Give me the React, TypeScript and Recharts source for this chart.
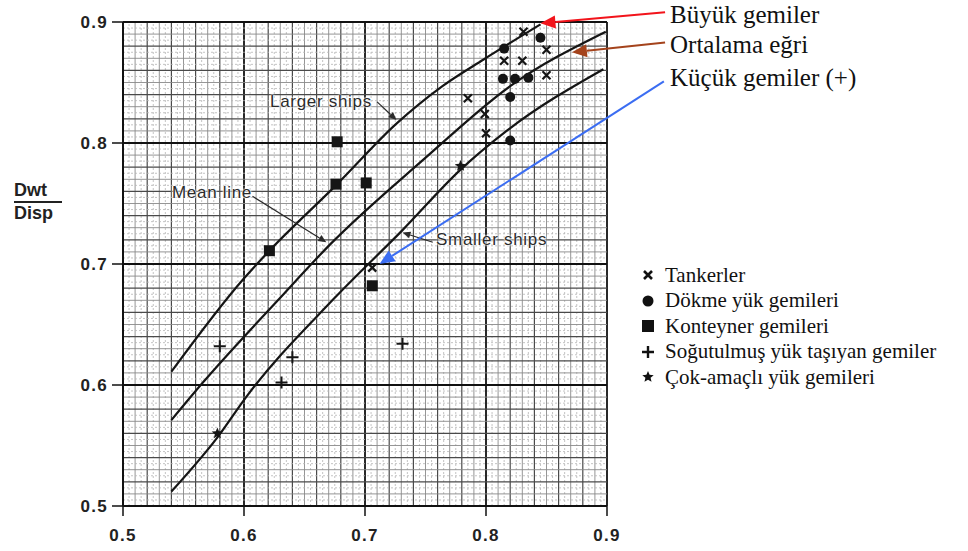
import React from 'react';
import { ComposedChart, Line, Scatter, XAxis, YAxis, ReferenceLine } from 'recharts';

// the three guide curves
const largerShips = [
  { x: 0.54, y: 0.611 }, { x: 0.599, y: 0.687 }, { x: 0.621, y: 0.711 }, { x: 0.677, y: 0.766 },
  { x: 0.726, y: 0.816 }, { x: 0.764, y: 0.847 }, { x: 0.798, y: 0.869 }, { x: 0.845, y: 0.898 },
];
const meanLine = [
  { x: 0.54, y: 0.571 }, { x: 0.566, y: 0.602 }, { x: 0.628, y: 0.67 }, { x: 0.671, y: 0.716 },
  { x: 0.748, y: 0.786 }, { x: 0.82, y: 0.847 }, { x: 0.899, y: 0.892 },
];
const smallerShips = [
  { x: 0.54, y: 0.512 }, { x: 0.579, y: 0.558 }, { x: 0.601, y: 0.589 }, { x: 0.674, y: 0.671 },
  { x: 0.731, y: 0.728 }, { x: 0.779, y: 0.778 }, { x: 0.817, y: 0.81 }, { x: 0.897, y: 0.861 },
];

// ship samples
const tankers = [
  { x: 0.831, y: 0.892 }, { x: 0.85, y: 0.877 }, { x: 0.815, y: 0.868 }, { x: 0.83, y: 0.868 },
  { x: 0.85, y: 0.856 }, { x: 0.785, y: 0.837 }, { x: 0.799, y: 0.824 }, { x: 0.8, y: 0.808 },
  { x: 0.706, y: 0.697 },
];
const bulkCarriers = [
  { x: 0.845, y: 0.887 }, { x: 0.815, y: 0.878 }, { x: 0.814, y: 0.853 }, { x: 0.824, y: 0.853 },
  { x: 0.835, y: 0.854 }, { x: 0.82, y: 0.838 }, { x: 0.82, y: 0.802 },
];
const containerShips = [
  { x: 0.677, y: 0.801 }, { x: 0.676, y: 0.766 }, { x: 0.701, y: 0.767 }, { x: 0.621, y: 0.711 },
  { x: 0.706, y: 0.682 },
];
const reeferShips = [
  { x: 0.58, y: 0.632 }, { x: 0.64, y: 0.623 }, { x: 0.631, y: 0.602 }, { x: 0.731, y: 0.634 },
];
const multiPurpose = [{ x: 0.578, y: 0.56 }, { x: 0.779, y: 0.781 }];

const axisTicks = [0.5, 0.6, 0.7, 0.8, 0.9];

const curveNotes = ['Larger ships', 'Mean line', 'Smaller ships'];
const calloutLabels = ['Büyük gemiler', 'Ortalama eğri', 'Küçük gemiler (+)'];
const legendLabels = [
  'Tankerler',
  'Dökme yük gemileri',
  'Konteyner gemileri',
  'Soğutulmuş yük taşıyan gemiler',
  'Çok-amaçlı yük gemileri',
];

// leader arrows of the english notes, and the coloured callouts (data coords)
const leaders = [
  [{ x: 0.71, y: 0.834 }, { x: 0.726, y: 0.819 }],
  [{ x: 0.607, y: 0.756 }, { x: 0.668, y: 0.718 }],
  [{ x: 0.756, y: 0.718 }, { x: 0.731, y: 0.726 }],
];
const callouts = [
  { seg: [{ x: 0.948, y: 0.908 }, { x: 0.845, y: 0.899 }], color: '#f2141b' },
  { seg: [{ x: 0.948, y: 0.883 }, { x: 0.871, y: 0.875 }], color: '#a4431c' },
  { seg: [{ x: 0.947, y: 0.851 }, { x: 0.712, y: 0.7 }], color: '#3b6df2' },
];

// graph paper: every 0.005, heavier each 0.01 / 0.02 / 0.1
const paper: { v: number; level: number }[] = [];
for (let i = 0; i <= 80; i++) {
  const level = i % 20 === 0 ? 3 : i % 4 === 0 ? 2 : i % 2 === 0 ? 1 : 0;
  paper.push({ v: (500 + i * 5) / 1000, level });
}
const paperStyle = [
  { stroke: '#b5b5b5', strokeWidth: 0.8, strokeDasharray: '2 2' },
  { stroke: '#8a8a8a', strokeWidth: 0.9 },
  { stroke: '#4a4a4a', strokeWidth: 1.2 },
  { stroke: '#111', strokeWidth: 1.8 },
];

const serif = '"Liberation Serif", "Times New Roman", Times, serif';
const sans = 'Arial, "Liberation Sans", sans-serif';

function arrowShape(color: string, head: number, width: number, stroke: number) {
  return (p: any) => {
    const { x1, y1, x2, y2 } = p;
    const a = Math.atan2(y2 - y1, x2 - x1);
    const bx = x2 - head * Math.cos(a);
    const by = y2 - head * Math.sin(a);
    const s = Math.sin(a) * width;
    const c = Math.cos(a) * width;
    return (
      <g>
        <line x1={x1} y1={y1} x2={bx} y2={by} stroke={color} strokeWidth={stroke} />
        <polygon points={`${x2},${y2} ${bx + s},${by - c} ${bx - s},${by + c}`} fill={color} />
      </g>
    );
  };
}

const XTick = ({ x, y, payload }: any) => (
  <text x={x} y={y} dy="0.71em" textAnchor="middle" fill="#222" fontSize={17} fontWeight="bold" fontFamily={sans} letterSpacing={1.3}>
    {Number(payload.value).toFixed(1)}
  </text>
);
const YTick = ({ x, y, payload }: any) => (
  <text x={x} y={y} dy="0.36em" textAnchor="end" fill="#222" fontSize={17} fontWeight="bold" fontFamily={sans} letterSpacing={1.3}>
    {Number(payload.value).toFixed(1)}
  </text>
);

const TankerMark = ({ cx, cy }: any) => (
  <path d={`M${cx - 4},${cy - 4}L${cx + 4},${cy + 4}M${cx + 4},${cy - 4}L${cx - 4},${cy + 4}`} stroke="#151515" strokeWidth={2.2} />
);
const BulkMark = ({ cx, cy }: any) => <circle cx={cx} cy={cy} r={5} fill="#151515" />;
const BoxMark = ({ cx, cy }: any) => <rect x={cx - 5.5} y={cy - 5.5} width={11} height={11} fill="#151515" />;
const PlusMark = ({ cx, cy }: any) => (
  <path d={`M${cx - 6},${cy}L${cx + 6},${cy}M${cx},${cy - 6}L${cx},${cy + 6}`} stroke="#151515" strokeWidth={2} />
);
function starPath(cx: number, cy: number, r: number) {
  let d = '';
  for (let i = 0; i < 10; i++) {
    const rr = i % 2 === 0 ? r : r * 0.45;
    const a = -Math.PI / 2 + (i * Math.PI) / 5;
    d += `${i === 0 ? 'M' : 'L'}${cx + rr * Math.cos(a)},${cy + rr * Math.sin(a)}`;
  }
  return d + 'Z';
}
const StarMark = ({ cx, cy }: any) => <path d={starPath(cx, cy, 6)} fill="#151515" />;

const legendIcons = [
  <path d="M3,3L11,11M11,3L3,11" stroke="#111" strokeWidth={2.6} />,
  <circle cx={7} cy={7} r={5.5} fill="#111" />,
  <rect x={1} y={1} width={12} height={12} fill="#111" />,
  <path d="M1,7L13,7M7,1L7,13" stroke="#111" strokeWidth={2.4} />,
  <path d={starPath(7, 7, 6)} fill="#111" />,
];

const note: React.CSSProperties = {
  position: 'absolute',
  fontFamily: sans,
  fontSize: 17,
  letterSpacing: 0.7,
  color: '#2b2b2b',
  lineHeight: '20px',
  whiteSpace: 'nowrap',
  textShadow: '0 0 2px #fff, 0 0 2px #fff, 0 0 3px #fff',
};
const notePos = [
  { left: 270, top: 92 },
  { left: 172, top: 183 },
  { left: 436, top: 230 },
];

export default function App() {
  return (
    <div style={{ position: 'absolute', left: 0, top: 0, width: 968, height: 551, background: '#fff' }}>
      <ComposedChart width={968} height={551} margin={{ top: 22, right: 361, bottom: 0, left: 0 }}>
        <XAxis
          type="number"
          dataKey="x"
          domain={[0.5, 0.9]}
          ticks={axisTicks}
          allowDataOverflow
          axisLine={{ stroke: '#111', strokeWidth: 2 }}
          tickLine={{ stroke: '#111', strokeWidth: 1.5 }}
          tickSize={10}
          tickMargin={13}
          tick={<XTick />}
          height={45}
        />
        <YAxis
          type="number"
          dataKey="y"
          domain={[0.5, 0.9]}
          ticks={axisTicks}
          allowDataOverflow
          axisLine={{ stroke: '#111', strokeWidth: 2 }}
          tickLine={{ stroke: '#111', strokeWidth: 1.5 }}
          tickSize={11}
          tickMargin={4}
          tick={<YTick />}
          width={123}
        />
        {paper.map((g) => (
          <ReferenceLine key={'vx' + g.v} x={g.v} {...paperStyle[g.level]} />
        ))}
        {paper.map((g) => (
          <ReferenceLine key={'hy' + g.v} y={g.v} {...paperStyle[g.level]} />
        ))}

        <Line data={largerShips} dataKey="y" type="monotone" stroke="#151515" strokeWidth={2.2} dot={false} isAnimationActive={false} />
        <Line data={meanLine} dataKey="y" type="monotone" stroke="#151515" strokeWidth={2.2} dot={false} isAnimationActive={false} />
        <Line data={smallerShips} dataKey="y" type="monotone" stroke="#151515" strokeWidth={2.2} dot={false} isAnimationActive={false} />

        {leaders.map((seg, i) => (
          <ReferenceLine key={'ld' + i} segment={seg} ifOverflow="visible" shape={arrowShape('#2b2b2b', 8, 3.5, 1.2)} />
        ))}

        <Scatter data={tankers} shape={<TankerMark />} isAnimationActive={false} />
        <Scatter data={bulkCarriers} shape={<BulkMark />} isAnimationActive={false} />
        <Scatter data={containerShips} shape={<BoxMark />} isAnimationActive={false} />
        <Scatter data={reeferShips} shape={<PlusMark />} isAnimationActive={false} />
        <Scatter data={multiPurpose} shape={<StarMark />} isAnimationActive={false} />

        {callouts.map((c, i) => (
          <ReferenceLine key={'co' + i} segment={c.seg} ifOverflow="visible" shape={arrowShape(c.color, 15, 6.5, 2)} />
        ))}
      </ComposedChart>

      {curveNotes.map((t, i) => (
        <div key={t} style={{ ...note, ...notePos[i] }}>{t}</div>
      ))}

      <div style={{ position: 'absolute', left: 14, top: 180, width: 48, fontFamily: sans, fontWeight: 'bold', fontSize: 18, color: '#222', lineHeight: '20px' }}>
        <div style={{ borderBottom: '2px solid #222', paddingBottom: 1 }}>Dwt</div>
        <div>Disp</div>
      </div>

      {calloutLabels.map((t, i) => (
        <div
          key={t}
          style={{ position: 'absolute', left: 670, top: [0, 30, 63][i], fontFamily: serif, fontSize: 25, lineHeight: '30px', color: '#111', whiteSpace: 'nowrap' }}
        >
          {t}
        </div>
      ))}

      {legendLabels.map((t, i) => (
        <div
          key={t}
          style={{ position: 'absolute', left: 641, top: 262 + i * 25.5, height: 26, display: 'flex', alignItems: 'center', fontFamily: serif, fontSize: 21, color: '#111', whiteSpace: 'nowrap' }}
        >
          <svg width={14} height={14} style={{ marginRight: 10, flexShrink: 0 }}>{legendIcons[i]}</svg>
          <span style={{ fontFamily: serif }}>{t}</span>
        </div>
      ))}
    </div>
  );
}
